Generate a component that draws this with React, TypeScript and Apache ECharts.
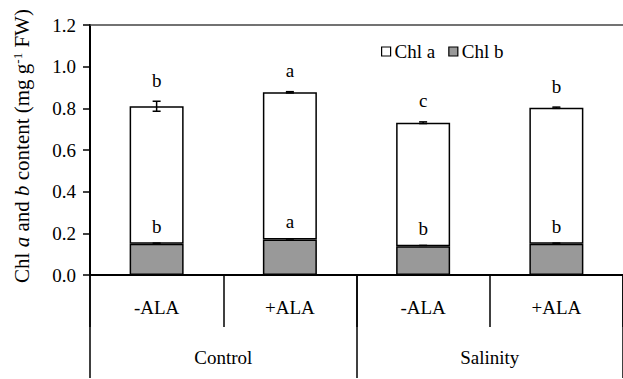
import React, { useEffect, useRef } from "react";
import * as echarts from "echarts";

const treatments = ["-ALA", "+ALA", "-ALA", "+ALA"];
const groups = ["Control", "Salinity"];
const chlB = [0.15, 0.17, 0.138, 0.15];
const chlA = [0.66, 0.707, 0.593, 0.653];
const errTotal = [0.024, 0.003, 0.004, 0.003];
const errB = [0.003, 0.003, 0.004, 0.003];
const lettersTop = ["b", "a", "c", "b"];
const lettersBottom = ["b", "a", "b", "b"];
const yTicks = [0, 0.2, 0.4, 0.6, 0.8, 1.0, 1.2];

const FONT = "Liberation Serif";

export default function App() {
  const ref = useRef<HTMLDivElement>(null);
  useEffect(() => {
    if (!ref.current) return;
    const chart = echarts.init(ref.current, undefined, { renderer: "svg" });
    const totals = chlA.map((a, i) => a + chlB[i]);
    const errData = totals.map((t, i) => [i, t, errTotal[i], chlB[i], errB[i]]);
    const txt = { fontFamily: FONT, fontSize: 19, color: "#000" };
    const option: any = {
      animation: false,
      backgroundColor: "#fff",
      textStyle: { fontFamily: FONT, color: "#000" },
      grid: { left: 90, right: -3, top: 25, bottom: 104 },
      legend: {
        data: ["Chl a", "Chl b"],
        left: 376,
        top: 37,
        icon: "rect",
        itemWidth: 9,
        itemHeight: 9,
        itemGap: 13,
        textStyle: { ...txt, padding: [0, 0, 0, -1] },
        itemStyle: { borderColor: "#000", borderWidth: 1.2 },
      },
      xAxis: [
        {
          type: "category",
          data: treatments,
          position: "bottom",
          axisLine: { show: true, onZero: false, lineStyle: { color: "#000", width: 2 } },
          axisTick: { show: true, interval: 0, length: 52, lineStyle: { color: "#000", width: 1.5 } },
          axisLabel: { ...txt, interval: 0, margin: 23 },
        },
        {
          type: "category",
          data: groups,
          position: "bottom",
          axisLine: { show: false, onZero: false },
          axisTick: { show: true, interval: 0, length: 103, lineStyle: { color: "#000", width: 1.5 } },
          axisLabel: { ...txt, interval: 0, margin: 73 },
        },
        {
          type: "category",
          data: treatments,
          position: "top",
          axisLine: { show: true, onZero: false, lineStyle: { color: "#444", width: 1.5 } },
          axisTick: { show: false },
          axisLabel: { show: false },
        },
      ],
      yAxis: {
        type: "value",
        min: yTicks[0],
        max: yTicks[yTicks.length - 1],
        interval: 0.2,
        axisLine: { show: true, lineStyle: { color: "#000", width: 2 } },
        axisTick: { show: true, length: 7, lineStyle: { color: "#000", width: 1.5 } },
        splitLine: { show: false },
        axisLabel: { ...txt, margin: 14, formatter: (v: number) => v.toFixed(1) },
        name: "{n|Chl }{i|a}{n| and }{i|b}{n| content (mg g}{s|-1}{n| FW)}",
        nameLocation: "middle",
        nameRotate: 90,
        nameGap: 58,
        nameTextStyle: {
          fontFamily: FONT,
          fontSize: 21,
          color: "#000",
          padding: [0, 0, 0, 8],
          rich: {
            n: { fontFamily: FONT, fontSize: 21, color: "#000" },
            i: { fontFamily: FONT, fontSize: 21, fontStyle: "italic", color: "#000" },
            s: { fontFamily: FONT, fontSize: 13, color: "#000", verticalAlign: "top" },
          },
        },
      },
      series: [
        {
          name: "Chl b",
          type: "bar",
          stack: "chl",
          barWidth: 54,
          data: chlB,
          itemStyle: { color: "#999999", borderColor: "#000", borderWidth: 1.5 },
        },
        {
          name: "Chl a",
          type: "bar",
          stack: "chl",
          barWidth: 54,
          data: chlA,
          itemStyle: { color: "#ffffff", borderColor: "#000", borderWidth: 1.5 },
        },
        {
          type: "custom",
          name: "err",
          z: 5,
          data: errData,
          renderItem: (params: any, api: any) => {
            const i = api.value(0);
            const t = api.value(1);
            const e = api.value(2);
            const b = api.value(3);
            const eb = api.value(4);
            const hi = api.coord([i, t + e]);
            const lo = api.coord([i, t - e]);
            const bhi = api.coord([i, b + eb]);
            const cap = 4;
            const ls = { stroke: "#000", lineWidth: 1.5 };
            return {
              type: "group",
              children: [
                { type: "line", shape: { x1: hi[0], y1: hi[1], x2: lo[0], y2: lo[1] }, style: ls },
                { type: "line", shape: { x1: hi[0] - cap, y1: hi[1], x2: hi[0] + cap, y2: hi[1] }, style: ls },
                { type: "line", shape: { x1: lo[0] - cap, y1: lo[1], x2: lo[0] + cap, y2: lo[1] }, style: ls },
                { type: "line", shape: { x1: bhi[0] - cap, y1: bhi[1], x2: bhi[0] + cap, y2: bhi[1] }, style: ls },
                {
                  type: "text",
                  x: hi[0],
                  y: hi[1] - 21,
                  style: {
                    text: lettersTop[params.dataIndex],
                    fontFamily: FONT,
                    fontSize: 19,
                    fill: "#000",
                    align: "center",
                    verticalAlign: "middle",
                  },
                },
                {
                  type: "text",
                  x: bhi[0],
                  y: bhi[1] - 17,
                  style: {
                    text: lettersBottom[params.dataIndex],
                    fontFamily: FONT,
                    fontSize: 19,
                    fill: "#000",
                    align: "center",
                    verticalAlign: "middle",
                  },
                },
              ],
            };
          },
        },
      ],
    };
    chart.setOption(option);
    return () => chart.dispose();
  }, []);
  return (
    <div
      ref={ref}
      style={{ position: "fixed", left: 0, top: 0, width: 623, height: 379, background: "#fff" }}
    />
  );
}
